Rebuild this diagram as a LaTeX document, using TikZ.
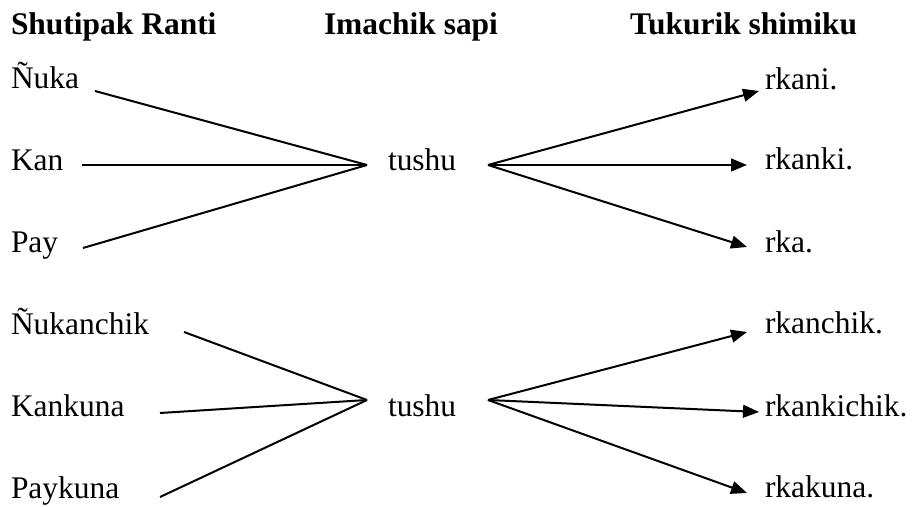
\documentclass[tikz,border=0pt]{standalone}
\usepackage{fontspec}
\setmainfont{Liberation Serif}
\usetikzlibrary{arrows.meta}

\begin{document}
\begin{tikzpicture}[x=0.375pt, y=-0.375pt, >={Triangle[length=6pt, width=4.8pt]},
    line width=0.75pt,
    word/.style={anchor=base west, inner sep=0pt, font=\fontsize{11.8pt}{14pt}\selectfont},
    head/.style={word, font=\fontsize{11.8pt}{14pt}\selectfont\bfseries}]
    \useasboundingbox (0,0) rectangle (912,507);

    % column headings
    \node[head] (hsource) at (10, 35) {Shutipak Ranti};
    \node[head] (hroot) at (323, 35) {Imachik sapi};
    \node[head] (hend) at (629, 35) {Tukurik shimiku};

    % singular
    \node[word] (nuka) at (10, 89) {Ñuka};
    \node[word] (kan) at (10, 171) {Kan};
    \node[word] (pay) at (10, 253) {Pay};
    \node[word] (tushuA) at (387, 171) {tushu};
    \node[word] (rkani) at (764, 90) {rkani.};
    \node[word] (rkanki) at (764, 170) {rkanki.};
    \node[word] (rka) at (764, 253) {rka.};

    \coordinate (nukaE) at (95, 91);
    \coordinate (kanE) at (82, 165);
    \coordinate (payE) at (83, 248);
    \coordinate (inA) at (367, 165);
    \coordinate (outA) at (488, 165);
    \coordinate (rkaniW) at (759, 91);
    \coordinate (rkankiW) at (747, 165);
    \coordinate (rkaW) at (747, 247);

    \draw (nukaE) -- (inA);
    \draw (kanE) -- (inA);
    \draw (payE) -- (inA);
    \draw[->] (outA) -- (rkaniW);
    \draw[->] (outA) -- (rkankiW);
    \draw[->] (outA) -- (rkaW);

    % plural
    \node[word] (nukanchik) at (10, 335) {Ñukanchik};
    \node[word] (kankuna) at (10, 417) {Kankuna};
    \node[word] (paykuna) at (10, 499) {Paykuna};
    \node[word] (tushuB) at (387, 417) {tushu};
    \node[word] (rkanchik) at (764, 334) {rkanchik.};
    \node[word] (rkankichik) at (764, 417) {rkankichik.};
    \node[word] (rkakuna) at (764, 498) {rkakuna.};

    \coordinate (nukanchikE) at (184, 332);
    \coordinate (kankunaE) at (160, 413);
    \coordinate (paykunaE) at (160, 497);
    \coordinate (inB) at (367, 400);
    \coordinate (outB) at (488, 400);
    \coordinate (rkanchikW) at (747, 332);
    \coordinate (rkankichikW) at (759, 412);
    \coordinate (rkakunaW) at (747, 493);

    \draw (nukanchikE) -- (inB);
    \draw (kankunaE) -- (inB);
    \draw (paykunaE) -- (inB);
    \draw[->] (outB) -- (rkanchikW);
    \draw[->] (outB) -- (rkankichikW);
    \draw[->] (outB) -- (rkakunaW);
  \end{tikzpicture}
\end{document}
